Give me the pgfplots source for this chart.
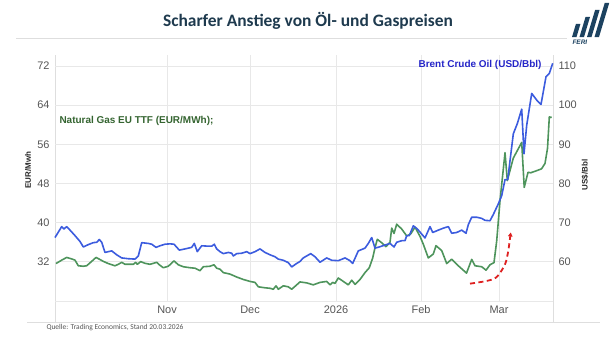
\documentclass[border=0pt]{standalone}
\usepackage{fontspec}
\setmainfont{Liberation Sans}
\newfontfamily\calibri{Carlito}
\usepackage{pgfplots}
\pgfplotsset{compat=1.18}
\usetikzlibrary{arrows.meta}
\definecolor{brent}{RGB}{60,92,222}
\definecolor{gas}{RGB}{78,148,92}
\definecolor{brenttxt}{RGB}{36,36,200}
\definecolor{gastxt}{RGB}{52,100,48}
\definecolor{titlec}{RGB}{30,58,78}
\definecolor{gridc}{RGB}{232,232,232}
\definecolor{framec}{RGB}{222,222,222}
\definecolor{tickc}{RGB}{85,85,85}
\definecolor{logoc}{RGB}{28,66,96}
\definecolor{arrowc}{RGB}{222,32,32}
\pgfplotstableread{
x y
56 31.65
61.7 32.35
66.7 32.9
71.7 32.6
75 32.35
78.3 31.2
83.3 31.1
86.7 31.2
91.7 32.1
96 32.9
99.3 32.55
103.3 32.1
108.3 31.65
115 31.2
118.3 31.5
121.7 31.9
125 31.5
130 31.5
133.3 31.5
135.7 31.9
137.3 31.5
140.7 32.05
145 31.7
150 31.5
156.7 31.9
159.3 31.4
163.3 30.8
168.3 31.1
174 32.2
178.3 31.4
183.3 31.0
190 30.8
195 30.7
200 30.2
203.3 31.0
210 31.1
214 31.4
216.7 30.7
220 30.5
223.3 29.8
230 29.5
236.7 28.9
243.3 28.4
250 28.0
255 27.8
258.3 26.9
265 26.7
270 26.6
273.3 26.4
276 27.1
278.3 26.4
283.3 27.1
288.3 26.9
291.7 26.4
296.7 27.3
300 27.9
306.7 27.7
313.3 27.3
320 27.8
326.7 28.0
330 27.3
332.7 27.8
335 27.6
338.3 28.7
343.3 28.0
348.3 27.3
351.7 28.25
355 27.4
360 28.4
365 29.8
369.3 30.8
372.7 32.8
375 34.9
377.3 36.6
381.7 35.9
386 35.1
390 36.0
391.7 38.9
394 37.8
396.7 39.7
401.7 38.7
406.7 37.3
410.7 37.7
415 39.1
420 37.2
423.3 35.6
428.3 32.8
433.3 33.6
436 35.3
441.7 34.3
446.7 31.65
451.7 32.55
458.3 31.2
466.5 29.7
471.7 32.5
475 31.2
481.7 31.0
486 30.3
490 31.4
494 31.85
496.7 36.3
500 44.5
505 54.3
507.3 48.6
513.3 53.2
521.7 56.4
524.2 47.2
528 50.3
530.7 50.2
535 50.5
541.5 51.0
545 52.1
547.5 55.2
549.3 61.6
551.7 61.5
}\gastable
\pgfplotstableread{
x y
55 66.2
61.7 69.0
64 68.4
66.7 69.0
70 68.1
75 66.7
80 65.2
83.3 63.8
88.3 64.4
93.3 64.9
96.7 65.0
99.3 65.7
101.7 65.0
105 62.4
108.3 62.6
111.7 62.8
116.7 61.8
121.7 61.0
128.3 60.8
135 60.7
138.3 61.5
141.7 64.9
148.3 64.7
151.7 64.5
156 63.7
160 64.1
165 64.5
170 64.6
174 64.5
179.3 63.0
185 63.3
191.7 63.7
194.3 64.7
197.3 62.6
201.7 64.1
208.3 64.0
211.7 64.0
214.3 64.5
216.7 63.3
220 62.6
223.3 62.1
228.3 62.4
231.7 62.2
233.3 61.5
236.7 62.1
241.7 62.2
246.7 62.6
250 62.1
255 62.6
260 63.3
265 62.4
270 61.8
275 61.3
278.3 60.7
283.3 60.4
288.3 59.8
291.7 58.7
296.7 59.6
300 60.1
303.3 61.0
310.7 62.1
315 61.3
320 59.9
326.7 61.0
331.7 60.4
338.3 60.3
345 61.0
350 60.3
352.7 59.6
358.3 62.8
365 63.5
368.3 64.7
371.7 66.2
375 63.5
379.3 63.8
384 64.2
390 64.7
394 63.8
396.7 65.0
401.7 65.4
405 65.4
406.7 66.7
409.3 66.7
413.3 69.2
417.3 68.4
420 67.6
425 66.1
430 69.0
432.7 67.5
438.3 68.1
443.3 68.6
448.3 69.0
451.7 67.3
456.7 67.5
461.7 68.1
466 67.3
468.3 69.5
471.7 71.4
476.7 71.4
481.7 71.1
485 70.6
490 70.5
493.3 72.1
498.3 74.8
501.7 76.9
505 81.0
507.7 81.0
513.3 92.7
517.3 95.3
521.7 99.0
524 87.6
526.7 94.9
531.7 103.0
536.7 101.3
541 100.2
546 107.3
549.3 108.1
552.7 110.7
}\brenttable
\begin{document}
\begin{tikzpicture}[x=1bp,y=1bp]
\useasboundingbox (0,0) rectangle (610,343);
% title
\node[font=\calibri\bfseries\fontsize{17.5}{19}\selectfont, text=titlec] at (308,322) {Scharfer Anstieg von Öl- und Gaspreisen};
\draw[framec, line width=0.8bp] (16,305) -- (567,305);
% logo
\foreach \i/\h in {0/13,1/20,2/27,3/34}{
  \fill[logoc] (572+7.5*\i,306) -- (576.5+7.5*\i,306) -- (576.5+7.5*\i+0.3*\h,306+\h) -- (572+7.5*\i+0.3*\h,306+\h) -- cycle;
}
\node[font=\bfseries\itshape\fontsize{6.5}{6.5}\selectfont, text=logoc, anchor=west] at (569,300.5) {FERI};
% frame lines
\draw[framec, line width=0.8bp] (55,288) -- (55,21);
\draw[framec, line width=0.8bp] (553,288) -- (553,21);
\draw[framec, line width=0.8bp] (27,21) -- (600,21);
\begin{axis}[
  at={(55bp,42bp)}, anchor=south west,
  scale only axis, width=498bp, height=246bp,
  xmin=55, xmax=553, ymin=24, ymax=74.26,
  axis line style={draw=none}, tick style={draw=none},
  ytick={24,32,40,48,56,64,72},
  yticklabels={,32,40,48,56,64,72},
  xtick={167,250,336,421,499},
  xticklabels={Nov,Dec,2026,Feb,Mar},
  xmajorgrids, ymajorgrids,
  grid style={gridc, line width=0.8bp},
  /pgf/number format/assume math mode=true,
  ticklabel style={font=\fontsize{11}{11}\selectfont, text=tickc},
  yticklabel style={xshift=-2bp},
  xticklabel style={anchor=north, yshift=-1bp},
  clip=false,
]
\addplot[gas, line width=1.6bp, line join=round] table[x=x,y=y] {\gastable};
\addplot[arrowc, line width=1.8bp, dash pattern=on 5bp off 3.5bp, smooth, -{Triangle[length=4bp,width=4.5bp]}] coordinates {(470,27.55) (486.7,28.1) (496.7,28.9) (505,31.5) (508.3,34.3) (510.7,38.0)};
\end{axis}
\begin{axis}[
  at={(55bp,42bp)}, anchor=south west,
  scale only axis, width=498bp, height=246bp,
  xmin=55, xmax=553, ymin=50, ymax=112.82,
  axis line style={draw=none}, tick style={draw=none},
  axis y line*=right, axis x line=none,
  ytick={50,60,70,80,90,100,110},
  yticklabels={,60,70,80,90,100,110},
  /pgf/number format/assume math mode=true,
  ticklabel style={font=\fontsize{11}{11}\selectfont, text=tickc},
  yticklabel style={xshift=2bp},
  clip=false,
]
\addplot[brent, line width=1.6bp, line join=round] table[x=x,y=y] {\brenttable};
\end{axis}
% legends / labels
\node[font=\bfseries\fontsize{10}{10}\selectfont, text=brenttxt, anchor=east] at (545,278) {Brent Crude Oil (USD/Bbl)};
\node[font=\bfseries\fontsize{10}{10}\selectfont, text=gastxt, anchor=west] at (56,222) {Natural Gas EU TTF (EUR/MWh);};
\node[font=\bfseries\fontsize{8}{8}\selectfont, text=black!85, rotate=90] at (28,173) {EUR/Mwh};
\node[font=\bfseries\fontsize{8}{8}\selectfont, text=black!85, rotate=90] at (585,168) {US\$/Bbl};
\node[font=\calibri\fontsize{7.5}{8}\selectfont, text=tickc, anchor=west] at (43,15) {Quelle: Trading Economics, Stand 20.03.2026};
\end{tikzpicture}
\end{document}
